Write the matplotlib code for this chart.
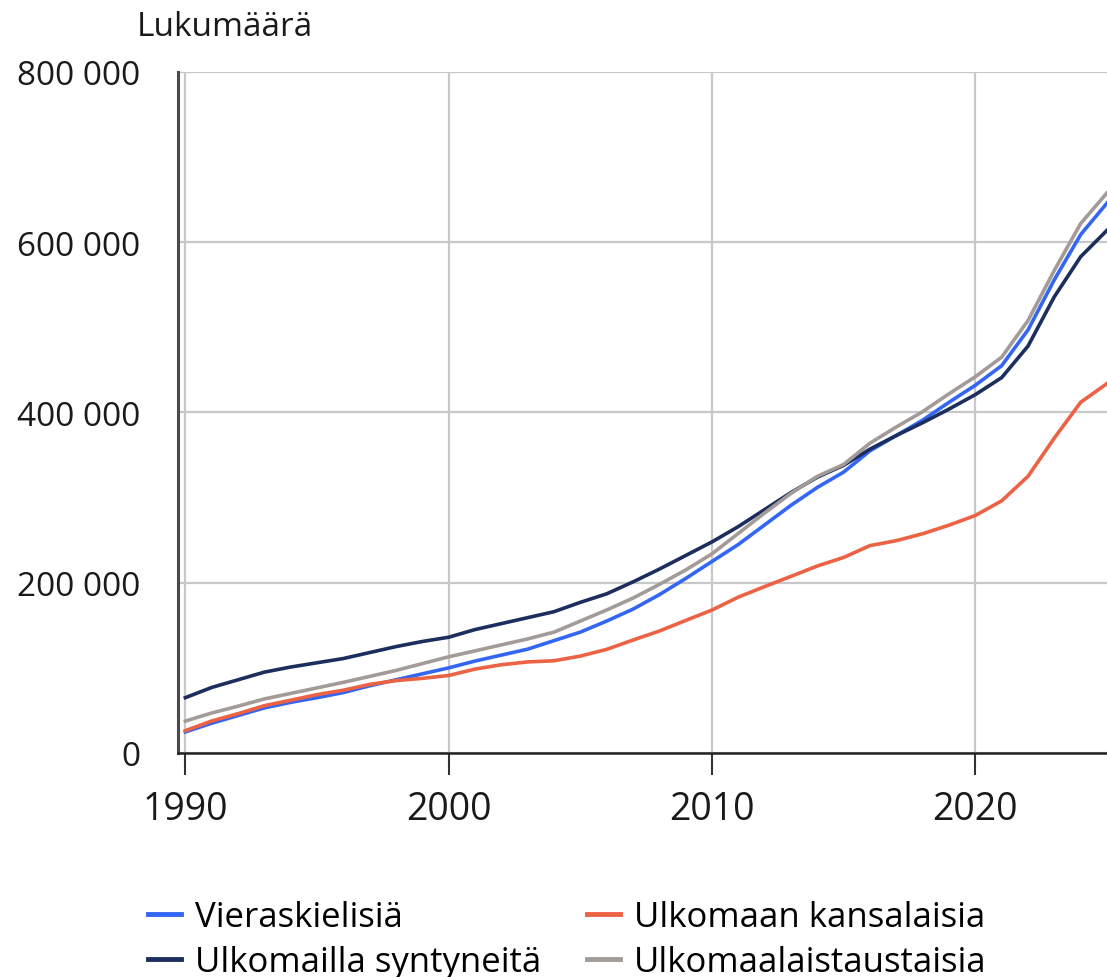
import numpy as np
import matplotlib
matplotlib.use("Agg")
import matplotlib.pyplot as plt
from matplotlib.ticker import FuncFormatter

plt.rcParams['font.family'] = ['Open Sans', 'DejaVu Sans']

years = list(range(1990, 2026))

# Vieraskielisiä
vieraskielisia = [24783, 35000, 44000, 53000, 59500, 65000, 71000, 79000, 86000, 93000,
                  100000, 108000, 115000, 122000, 132000, 142000, 155000, 169000, 186000, 205000,
                  225000, 245000, 268000, 291000, 312000, 330000, 355000, 373000, 391000, 412000,
                  432000, 455000, 497000, 556000, 609000, 646000]
# Ulkomailla syntyneitä
syntyneita = [65000, 77000, 86000, 95000, 101000, 106000, 111000, 118000, 125000, 131000,
              136000, 145000, 152000, 159000, 166000, 177000, 187000, 201000, 216000, 232000,
              248000, 266000, 286000, 306000, 324000, 338000, 357000, 373000, 388000, 404000,
              421000, 441000, 478000, 536000, 583000, 614000]
# Ulkomaan kansalaisia
kansalaisia = [26255, 37597, 46179, 55587, 62012, 68566, 73754, 80600, 85060, 87680,
               91074, 98577, 103682, 107003, 108346, 113852, 121739, 132708, 143256, 155705,
               167954, 183133, 195511, 207511, 219675, 229765, 243639, 249452, 257572, 267629,
               279044, 296235, 325000, 370000, 412000, 434000]
# Ulkomaalaistaustaisia
taustaisia = [37500, 47000, 55000, 63500, 70000, 76500, 83000, 90000, 97000, 105000,
              113000, 120000, 127000, 134000, 142000, 155000, 168000, 182000, 198000, 215000,
              234000, 258000, 282000, 305000, 325000, 339000, 364000, 383000, 401000, 422000,
              442000, 465000, 508000, 567000, 622000, 658000]

labels = ["Vieraskielisiä", "Ulkomailla syntyneitä", "Ulkomaan kansalaisia", "Ulkomaalaistaustaisia"]
colors = ["#3366f2", "#1c2e5e", "#ec6244", "#a39b97"]

fig = plt.figure(figsize=(11.07, 9.78), dpi=100)
ax = fig.add_axes([178 / 1107, 1 - 754 / 978, 1 - 178 / 1107, (754 - 73) / 978])

series = [vieraskielisia, syntyneita, kansalaisia, taustaisia]
handles = []
for s, lab, c in zip(series, labels, colors):
    h, = ax.plot(years, s, color=c, lw=2.6, label=lab, solid_joinstyle='round', zorder=3)
    handles.append(h)

ax.set_xlim(1989.72, 2025.0)
ax.set_ylim(0, 800000)
ax.set_xticks([1990, 2000, 2010, 2020])
ax.set_yticks([0, 200000, 400000, 600000, 800000])
ax.yaxis.set_major_formatter(FuncFormatter(lambda v, p: f"{int(v):,}".replace(",", " ")))
ax.grid(True, color="#c8c8c8", lw=1.6, zorder=0)

for side in ["top", "right"]:
    ax.spines[side].set_visible(False)
ax.spines["left"].set_color("#4a4a4a")
ax.spines["left"].set_linewidth(2.2)
ax.spines["bottom"].set_color("#222222")
ax.spines["bottom"].set_linewidth(1.8)

ax.tick_params(axis="x", direction="out", length=16, width=1.5, color="#333333",
               labelsize=27, pad=11, labelcolor="#1a1a1a")
ax.tick_params(axis="y", length=0, labelsize=24, pad=27, labelcolor="#1a1a1a")

fig.text(137 / 1107, 1 - 28 / 978, "Lukumäärä", fontsize=24, va="center", ha="left", color="#1a1a1a")

leg = fig.legend(handles=handles, labels=labels, ncol=2, loc="upper left",
                 bbox_to_anchor=(131 / 1107, 1 - 884 / 978), frameon=False, fontsize=25,
                 handlelength=0.95, handletextpad=0.4, columnspacing=1.3, labelspacing=0.3,
                 borderpad=0)
for l in leg.get_lines():
    l.set_linewidth(3.5)

fig.savefig("out.png", dpi=100)
